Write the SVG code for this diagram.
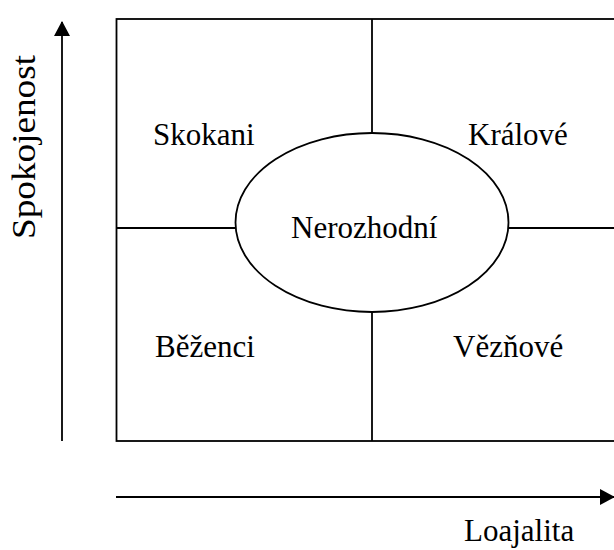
<svg xmlns="http://www.w3.org/2000/svg" width="614" height="550" viewBox="0 0 614 550">
<style>
.ln{stroke:#000;stroke-width:1.8;fill:none}
.t{font-family:"Liberation Serif","Times New Roman",serif;font-size:31px;fill:#000}
</style>
<defs>
<marker id="ah" markerWidth="16" markerHeight="16" refX="14" refY="8" orient="auto" markerUnits="userSpaceOnUse">
<path d="M0,0 L15,8 L0,16 Z" fill="#000"/>
</marker>
</defs>
<rect width="614" height="550" fill="#fff"/>
<g id="grid">
<rect class="ln" x="116.5" y="19" width="510" height="422"/>
<line class="ln" x1="372" y1="19" x2="372" y2="133"/>
<line class="ln" x1="372" y1="312" x2="372" y2="441"/>
<line class="ln" x1="116.5" y1="228" x2="236" y2="228"/>
<line class="ln" x1="508" y1="228" x2="626" y2="228"/>
</g>
<g id="skokani"><text class="t" x="153" y="145">Skokani</text></g>
<g id="kralove"><text class="t" x="468" y="145">Králové</text></g>
<g id="nerozhodni">
<ellipse class="ln" cx="372" cy="222.5" rx="136.5" ry="89.5"/>
<text class="t" x="291" y="238">Nerozhodní</text>
</g>
<g id="bezenci"><text class="t" x="155" y="357">Běženci</text></g>
<g id="veznove"><text class="t" x="453" y="357">Vězňové</text></g>
<g id="connectors">
<line class="ln" x1="62" y1="441" x2="62" y2="22" marker-end="url(#ah)"/>
<line class="ln" x1="116" y1="497" x2="614" y2="497" marker-end="url(#ah)"/>
</g>
<g id="axis-labels">
<text class="t" style="font-size:33px" transform="translate(35,239) rotate(-90)" textLength="184" lengthAdjust="spacingAndGlyphs">Spokojenost</text>
<text class="t" x="464" y="541">Loajalita</text>
</g>
</svg>
